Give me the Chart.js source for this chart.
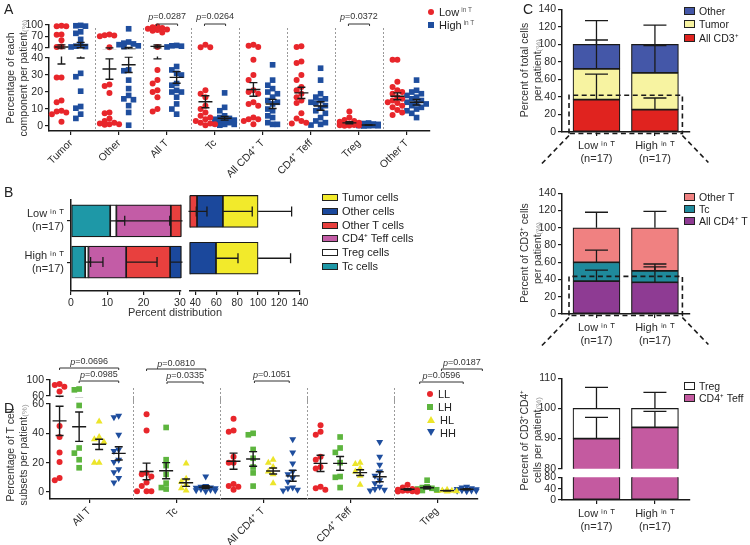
<!DOCTYPE html>
<html>
<head>
<meta charset="utf-8">
<title>T cell composition per patient</title>
<script src="https://cdn.jsdelivr.net/npm/chart.js@4.4.1/dist/chart.umd.min.js"></script>
<style>
  html, body { margin: 0; padding: 0; background: #fff; }
  #fig { position: relative; width: 750px; height: 545px; overflow: hidden;
         font-family: "Liberation Sans", Arial, Helvetica, sans-serif; color: #222; }
  #fig canvas { position: absolute; }
  .ttl { position: absolute; white-space: nowrap; text-align: center; line-height: 12.5px; font-size: 10.5px; color: #333; }
  .pct { color: #9a9a9a; font-size: 8px; }
  .sup { font-size: 6.5px; color: #555; vertical-align: 4px; margin-left: 2px; }
  .panel { position: absolute; font-size: 14px; line-height: 14px; }
  .leg { position: absolute; font-size: 11px; white-space: nowrap; line-height: 12px; color: #222; }
  .leg.sm { font-size: 10.5px; }
  .sw { display: inline-block; border: 1px solid #222; vertical-align: 0; margin-right: 4px; }
  .mk { display: inline-block; margin-right: 5px; vertical-align: 1px; }
</style>
</head>
<body>
<div id="fig"></div>
<script>
// ---------- A: percentage of each component per patient (Low / High in T, n=17 each)
const aCats = ['Tumor', 'Other', 'All T', 'Tc', 'All CD4⁺ T', 'CD4⁺ Teff', 'Treg', 'Other T'];
const aLow = [
  [98, 97, 97, 75, 74, 60, 43, 42, 28.5, 28.5, 15, 14, 9, 8.5, 8, 7, 2.5],
  [75, 73, 72, 70, 41, 24.5, 23.5, 19.5, 8, 7.5, 4.5, 3, 2, 1.5, 1, 1, 0.8],
  [96, 94, 92, 90, 88, 87, 85, 80, 42, 33, 27, 25, 21, 20, 17, 10, 8.5],
  [48, 41, 41, 21, 19, 17, 12, 10, 8, 6, 5, 4, 3, 2, 1.5, 1, 0.5],
  [48, 45, 42, 39, 30, 27, 21, 20, 19, 14, 13, 12, 5, 4, 4, 3, 1],
  [44, 42, 38, 37, 30, 27, 23, 21, 19, 17, 15, 13.5, 7.5, 4.5, 3, 2, 1.5],
  [8.5, 5, 3.5, 3, 2.5, 2, 1.8, 1.5, 1.2, 1, 1, 0.8, 0.6, 0.5, 0.4, 0.3, 0.2],
  [39, 39, 26, 23, 21, 20, 19, 17, 16, 15, 14, 13.5, 12, 11, 9.5, 8, 6.5]
];
const aHigh = [
  [99, 98, 97, 82, 78, 62, 46, 44, 43, 42, 31, 29, 20.5, 11.5, 10.5, 7, 4.5],
  [90, 55, 52, 50, 48, 45, 43, 33, 32.5, 27, 22, 18, 16, 15.5, 12, 8, 0.5],
  [46, 45, 44, 42, 35, 33, 31, 30, 25, 24, 21, 20, 20, 17, 13, 10, 7],
  [19.5, 11, 9, 6, 5, 4.5, 4, 3.5, 3, 3, 2.5, 2, 2, 1.5, 1, 1, 0.5],
  [36, 27, 24, 22, 20, 19, 17, 15, 14, 13, 10, 9, 6, 5, 2, 1, 1],
  [34, 27, 19, 17, 16, 15, 14, 13.5, 12, 10.5, 9, 7.5, 5, 3, 2, 1, 0.6],
  [1.8, 1.5, 1.2, 1, 1, 0.9, 0.8, 0.7, 0.6, 0.5, 0.5, 0.4, 0.3, 0.3, 0.2, 0.2, 0.1],
  [27, 21, 20, 19, 18, 17, 16, 15, 14, 13.5, 13, 12, 11, 10, 9, 7.5, 5]
];
const aLowMean = [42, 33.5, 43.5, 14.3, 21.5, 19.5, 1.9, 17.5];
const aLowSem = [5.5, 6, 4, 3.5, 4, 3.3, 0.6, 2];
const aHighMean = [47, 36, 28.6, 4.6, 13, 11.8, 0.6, 14];
const aHighSem = [7, 4.5, 3.4, 1.1, 2.7, 2.5, 0.2, 1.6];
const aPCats = [2, 3, 6];
const aPVals = ['0.0287', '0.0264', '0.0372'];

// ---------- B: percent distribution (stacked, left to right)
const bRows = [['Low ⁱⁿ ᵀ', '(n=17)'], ['High ⁱⁿ ᵀ', '(n=17)']];
const bSeries = ['Tc cells', 'Treg cells', 'CD4⁺ Teff cells', 'Other T cells', 'Other cells', 'Tumor cells'];
const bLow = [10.8, 1.7, 15.0, 14.2, 24.7, 33.6];
const bHigh = [3.9, 0.9, 10.4, 12.1, 32.5, 40.2];
const bLowSem = [4.0, 14.7, 13.5, 9.5, 28.0, 32.0];
const bHighSem = [1.5, 4.0, 8.5, 5.0, 21.0, 31.0];

// ---------- C: stacked percentages (bottom to top)
const cGroups = [['Low ⁱⁿ ᵀ', '(n=17)'], ['High ⁱⁿ ᵀ', '(n=17)']];
const c1Series = ['All CD3⁺', 'Tumor', 'Other'];
const c1Low = [37, 35, 28];
const c1High = [25.6, 41.9, 32.5];
const c1LowSem = [29, 33, 27];
const c1HighSem = [13.2, 31, 22];
const c2Series = ['All CD4⁺ T', 'Tc', 'Other T'];
const c2Low = [38, 22, 40];
const c2High = [36.8, 13.2, 50];
const c2LowSem = [13, 14, 18];
const c2HighSem = [17.8, 8, 19];
const c3Series = ['CD4⁺ Teff', 'Treg'];
const c3Low = [90, 10];
const c3High = [93.7, 6.3];
const c3LowSem = [7, 7];
const c3HighSem = [5.3, 5.3];

// ---------- D: T cell subsets per patient
const dCats = ['All T', 'Tc', 'All CD4⁺ T', 'CD4⁺ Teff', 'Treg'];
const dSeries = ['LL', 'LH', 'HL', 'HH'];
const dLL = [
  [90, 87, 83, 71, 45, 37.5, 27, 20.5, 9.5, 8],
  [53, 42, 13, 12, 10.5, 6.5, 4, 0.5, 0.5, 0.5],
  [50, 42, 41, 24, 20, 20, 5.5, 4, 3.5, 1.5],
  [45.5, 41, 39, 24, 22, 17, 16, 3.5, 2.5, 1.5],
  [5, 3, 2, 1.5, 1.2, 1, 0.8, 0.5, 0.3, 0.2]
];
const dLH = [
  [77, 75, 59, 30, 26.5, 22, 16.5],
  [44, 22, 18, 12, 6, 3, 2],
  [40, 39, 29, 23, 17, 13, 4],
  [37.5, 30, 27, 20, 10.5, 10, 3],
  [8, 3.5, 3, 2.5, 2, 1.5, 1]
];
const dHL = [
  [48, 37.5, 36, 34, 20, 20],
  [19.5, 9, 7, 5, 2.5, 1],
  [22, 20, 17, 14, 12, 6],
  [20, 19, 16, 14, 11, 5],
  [1.5, 1, 0.8, 0.7, 0.5, 0.4]
];
const dHH = [
  [52, 51, 39, 29, 28, 22, 20.5, 15.5, 13.5, 9.5, 6.5],
  [10.5, 4, 3.5, 3, 2.8, 2.5, 2, 1.5, 1.2, 1, 0.5],
  [36, 27, 19.5, 14, 12, 9.5, 7, 3, 2.5, 1.5, 1],
  [34, 24, 18.5, 14, 11, 8, 6, 3.5, 2, 1.5, 1],
  [3.5, 3, 2.5, 2, 1.8, 1.5, 1.2, 1, 0.9, 0.8, 0.5]
];
const dMean = [[48.5, 14, 21, 19.5, 1.8], [44.5, 14.5, 22.5, 19.5, 2.9], [32.5, 6.3, 14.3, 13.2, 0.9], [26.3, 3.3, 11, 10.4, 1.8]];
const dSem = [[10, 5.7, 5.5, 5.5, 0.5], [10, 5.5, 5, 4.7, 0.8], [3.5, 2.5, 2, 2, 0.2], [4.5, 0.9, 3.7, 3.4, 0.4]];
const dPVals = ['0.0696', '0.0985', '0.0810', '0.0335', '0.1051', '0.0187', '0.0596'];

// ---------- styling
const INK = '#1a1a1a';
const FONT = '"Liberation Sans", Arial, Helvetica, sans-serif';
const RED = '#e8262b', BLUE = '#1f4e9e', GREEN = '#5db53e', YELLOW = '#ece52a';
const bColors = ['#1e98a7', '#ffffff', '#c35ca6', '#e8403e', '#1b489c', '#f2ea2b'];
const c1Colors = ['#e0231f', '#f7f3a1', '#4457a8'];
const c2Colors = ['#8e3b93', '#1f8a9c', '#f08181'];
const c3Colors = ['#c45aa0', '#ffffff'];

Chart.defaults.font.family = FONT;
Chart.defaults.font.size = 10;
Chart.defaults.color = '#2a2a2a';
Chart.defaults.animation = false;
Chart.defaults.events = [];
Chart.defaults.plugins.legend.display = false;
Chart.defaults.plugins.tooltip.enabled = false;

const fig = document.getElementById('fig');

// canvas so that the plot area lands on area (page px), with margins m round it
function frame(a, m) {
  const c = document.createElement('canvas');
  c.width = a.r - a.l + m.l + m.r;
  c.height = a.b - a.t + m.t + m.b;
  c.style.left = (a.l - m.l) + 'px';
  c.style.top = (a.t - m.t) + 'px';
  fig.appendChild(c);
  return c;
}
function pad(m, showX, showY) {
  return { padding: { left: showY ? 0 : m.l, top: m.t, right: m.r, bottom: showX ? 0 : m.b } };
}
const gridOpt = () => ({ drawOnChartArea: false, offset: false, color: INK, tickLength: 4, lineWidth: 1.2 });
const borderOpt = () => ({ color: INK, width: 1.5 });
const fitW = w => sc => { sc.width = w; };
const fitH = h => sc => { sc.height = h; };
function numScale(min, max, ticks, fit, more, tickOpts) {
  return Object.assign({
    type: 'linear', min, max, offset: false,
    afterBuildTicks: sc => { sc.ticks = ticks.map(v => ({ value: v })); },
    afterFit: fit,
    grid: gridOpt(), border: borderOpt(),
    ticks: Object.assign({ padding: 2, autoSkip: false, maxRotation: 0, minRotation: 0 }, tickOpts || {})
  }, more || {});
}
function idxScale(min, max, labels, fit, tickOpts, more) {
  return Object.assign({
    type: 'linear', min, max, offset: false,
    afterBuildTicks: sc => { sc.ticks = labels.map((t, i) => ({ value: i })); },
    afterFit: fit,
    grid: gridOpt(), border: borderOpt(),
    ticks: Object.assign({ callback: (v, i) => labels[i], autoSkip: false, padding: 2 }, tickOpts || {})
  }, more || {});
}

// simple beeswarm: side-step points whose values collide
function swarm(vals, tol, step) {
  const slots = [0, -1, 1, -2, 2];
  const placed = [];
  return vals.map((v, n) => {
    let k = slots.find(s => !placed.some(p => p.s === s && Math.abs(p.v - v) < tol));
    if (k === undefined) k = slots[n % slots.length];
    placed.push({ v, s: k });
    return k * step;
  });
}
function groupPoints(groups, shift, keep, tol, step) {
  const pts = [];
  groups.forEach((vals, i) => {
    const sel = vals.filter(keep);
    const offs = swarm(sel, tol, step);
    sel.forEach((v, k) => pts.push({ x: i + shift + offs[k], y: v }));
  });
  return pts;
}

// ---------- drawing plugins
function separators(c, n, top, bottom) {
  const { ctx, chartArea: a, scales: { x } } = c;
  ctx.save();
  ctx.strokeStyle = '#9a9a9a'; ctx.lineWidth = 1; ctx.setLineDash([2, 2]);
  for (let i = 0; i < n; i++) {
    const px = Math.round(x.getPixelForValue(i + 0.5)) + 0.5;
    ctx.beginPath(); ctx.moveTo(px, a.top + top); ctx.lineTo(px, a.bottom + bottom); ctx.stroke();
  }
  ctx.restore();
}
function meanSem(c, items, hw, cw) {
  const { ctx, chartArea: a, scales: { x, y } } = c;
  ctx.save();
  ctx.beginPath(); ctx.rect(a.left, a.top - 1.5, a.right - a.left, a.bottom - a.top + 3); ctx.clip();
  ctx.strokeStyle = INK; ctx.lineWidth = 1.4;
  items.forEach(it => {
    const px = x.getPixelForValue(it.x);
    const pm = y.getPixelForValue(it.mean);
    const p0 = y.getPixelForValue(it.mean - it.sem), p1 = y.getPixelForValue(it.mean + it.sem);
    ctx.beginPath();
    ctx.moveTo(px - hw, pm); ctx.lineTo(px + hw, pm);
    ctx.moveTo(px, p0); ctx.lineTo(px, p1);
    ctx.moveTo(px - cw, p0); ctx.lineTo(px + cw, p0);
    ctx.moveTo(px - cw, p1); ctx.lineTo(px + cw, p1);
    ctx.stroke();
  });
  ctx.restore();
}
function brackets(c, items) {
  const { ctx, chartArea: a, scales: { x } } = c;
  ctx.save();
  ctx.strokeStyle = '#333'; ctx.fillStyle = '#333'; ctx.lineWidth = 1;
  ctx.textBaseline = 'middle'; ctx.textAlign = 'left';
  items.forEach(it => {
    const x0 = x.getPixelForValue(it.a), x1 = x.getPixelForValue(it.b);
    const yl = a.top + it.line, yt = a.top + it.txt;
    ctx.beginPath(); ctx.moveTo(x0, yl + 2); ctx.lineTo(x0, yl); ctx.lineTo(x1, yl); ctx.lineTo(x1, yl + 2); ctx.stroke();
    const rest = '=' + it.p;
    ctx.font = 'italic 9px ' + FONT; const w1 = ctx.measureText('p').width;
    ctx.font = '9px ' + FONT; const w2 = ctx.measureText(rest).width;
    const sx = (x0 + x1) / 2 - (w1 + w2) / 2;
    ctx.font = 'italic 9px ' + FONT; ctx.fillText('p', sx, yt);
    ctx.font = '9px ' + FONT; ctx.fillText(rest, sx + w1, yt);
  });
  ctx.restore();
}
// one-sided error bars on stacked bars (from each segment end outwards)
function stackErr(c, rows, sems, cap, horizontal) {
  const { ctx, chartArea: a, scales: { x, y } } = c;
  const vs = horizontal ? x : y, is = horizontal ? y : x;
  ctx.save();
  ctx.beginPath(); ctx.rect(a.left - 1.5, a.top - 1.5, a.right - a.left + 3, a.bottom - a.top + 3); ctx.clip();
  ctx.strokeStyle = INK; ctx.lineWidth = 1.3;
  rows.forEach((vals, r) => {
    const pi = is.getPixelForValue(r);
    let cum = 0;
    vals.forEach((v, i) => {
      cum += v;
      const p0 = vs.getPixelForValue(cum), p1 = vs.getPixelForValue(cum + sems[r][i]);
      ctx.beginPath();
      if (horizontal) {
        ctx.moveTo(p0, pi); ctx.lineTo(p1, pi); ctx.moveTo(p1, pi - cap); ctx.lineTo(p1, pi + cap);
      } else {
        ctx.moveTo(pi, p0); ctx.lineTo(pi, p1); ctx.moveTo(pi - cap, p1); ctx.lineTo(pi + cap, p1);
      }
      ctx.stroke();
    });
  });
  ctx.restore();
}
// edge drawn where a broken axis cuts the bars
function cutEdge(c, side) {
  const { ctx, chartArea: a } = c;
  const px = side === 'right' ? a.right : a.left;
  ctx.save(); ctx.strokeStyle = INK; ctx.lineWidth = 1.2;
  c.getDatasetMeta(0).data.forEach(bar => {
    const h = bar.height / 2;
    ctx.beginPath(); ctx.moveTo(px, bar.y - h); ctx.lineTo(px, bar.y + h); ctx.stroke();
  });
  ctx.restore();
}
// dashed frame and the two lines that lead to the panel below
function zoomGuide(c, top) {
  const { ctx, chartArea: a, scales: { x, y } } = c;
  const l = x.getPixelForValue(-0.47), r = x.getPixelForValue(1.47);
  const t = y.getPixelForValue(top), b = a.bottom + 1.5;
  ctx.save(); ctx.strokeStyle = INK; ctx.lineWidth = 1.6; ctx.setLineDash([5, 3.5]);
  ctx.beginPath();
  ctx.moveTo(l, b); ctx.lineTo(l, t); ctx.lineTo(r, t); ctx.lineTo(r, b); ctx.lineTo(l, b);
  ctx.moveTo(l, b + 2); ctx.lineTo(l - 28, b + 31);
  ctx.moveTo(r, b + 2); ctx.lineTo(r + 26, b + 29);
  ctx.stroke(); ctx.restore();
}

// ---------- panel A (broken y axis: two stacked plots)
const aStats = aCats.flatMap((c, i) => [
  { x: i - 0.2, mean: aLowMean[i], sem: aLowSem[i] },
  { x: i + 0.2, mean: aHighMean[i], sem: aHighSem[i] }
]);
const aBr = aPCats.map((ci, k) => ({ a: ci - 0.22, b: ci + 0.22, p: aPVals[k], line: -1, txt: -8 }));
function aSets(keep, tol) {
  return [
    { data: groupPoints(aLow, -0.2, keep, tol, 0.1), backgroundColor: RED, pointStyle: 'circle', pointRadius: 3, borderWidth: 0, clip: false },
    { data: groupPoints(aHigh, 0.2, keep, tol, 0.1), backgroundColor: BLUE, pointStyle: 'rect', pointRadius: 4, borderWidth: 0, clip: false }
  ];
}
{
  const area = { l: 49, t: 25, r: 430, b: 48 }, m = { l: 49, t: 17, r: 20, b: 8 };
  new Chart(frame(area, m), {
    type: 'scatter',
    data: { datasets: aSets(v => v > 40.5, 14) },
    options: {
      responsive: false, devicePixelRatio: 1, layout: pad(m, false, true),
      scales: {
        x: idxScale(-0.46, 7.48, aCats, undefined, {}, { display: false }),
        y: numScale(40, 100, [40, 70, 100], fitW(m.l), {}, { font: { size: 10.5 } })
      }
    },
    plugins: [{
      id: 'aTop',
      beforeDatasetsDraw: c => separators(c, aCats.length - 1, 3, 8),
      afterDatasetsDraw: c => { meanSem(c, aStats, 7, 4); brackets(c, aBr); }
    }]
  });
}
{
  const area = { l: 49, t: 58, r: 430, b: 131 }, m = { l: 49, t: 12, r: 20, b: 56 };
  new Chart(frame(area, m), {
    type: 'scatter',
    data: { datasets: aSets(v => v <= 40.5, 3.4) },
    options: {
      responsive: false, devicePixelRatio: 1, layout: pad(m, true, true),
      scales: {
        x: idxScale(-0.46, 7.48, aCats, fitH(m.b), { minRotation: 45, maxRotation: 45, font: { size: 10.5 } }),
        y: numScale(-2.9, 40, [0, 10, 20, 30, 40], fitW(m.l), {}, { font: { size: 10.5 } })
      }
    },
    plugins: [{
      id: 'aLow',
      beforeDatasetsDraw: c => separators(c, aCats.length - 1, -3, 0),
      afterDatasetsDraw: c => meanSem(c, aStats, 7, 4)
    }]
  });
}

// ---------- panel B (broken x axis: two side-by-side plots)
function bSets() {
  return bSeries.map((s, i) => ({
    label: s,
    data: [{ x: bLow[i], y: 0 }, { x: bHigh[i], y: 1 }],
    backgroundColor: bColors[i], borderColor: INK, borderWidth: 1.2, borderSkipped: false, barThickness: 32
  }));
}
{
  const area = { l: 71, t: 188, r: 181, b: 291 }, m = { l: 71, t: 4, r: 8, b: 30 };
  new Chart(frame(area, m), {
    type: 'bar',
    data: { datasets: bSets() },
    options: {
      responsive: false, devicePixelRatio: 1, indexAxis: 'y', layout: pad(m, true, true),
      scales: {
        x: numScale(0, 30.3, [0, 10, 20, 30], fitH(m.b), { stacked: true }, { font: { size: 10.5 } }),
        y: idxScale(-0.5, 1.7, bRows, fitW(m.l), { font: { size: 11 }, padding: 3 }, { reverse: true, stacked: true })
      }
    },
    plugins: [{
      id: 'bLeft',
      afterDatasetsDraw: c => { cutEdge(c, 'right'); stackErr(c, [bLow, bHigh], [bLowSem, bHighSem], 5, true); }
    }]
  });
}
{
  const area = { l: 190, t: 188, r: 300, b: 291 }, m = { l: 6, t: 4, r: 12, b: 30 };
  new Chart(frame(area, m), {
    type: 'bar',
    data: { datasets: bSets() },
    options: {
      responsive: false, devicePixelRatio: 1, indexAxis: 'y', layout: pad(m, true, false),
      scales: {
        x: numScale(35, 140, [40, 60, 80, 100, 120, 140], fitH(m.b), { stacked: true }, { font: { size: 10 } }),
        y: idxScale(-0.5, 1.7, bRows, undefined, {}, { reverse: true, stacked: true, display: false })
      }
    },
    plugins: [{
      id: 'bRight',
      afterDatasetsDraw: c => { cutEdge(c, 'left'); stackErr(c, [bLow, bHigh], [bLowSem, bHighSem], 5, true); }
    }]
  });
}

// ---------- panel C (three stacked column plots)
function cSets(series, low, high, colors) {
  return series.map((s, i) => ({
    label: s,
    data: [{ x: 0, y: low[i] }, { x: 1, y: high[i] }],
    backgroundColor: colors[i], borderColor: INK, borderWidth: 1.2, borderSkipped: false, barThickness: 47
  }));
}
function cChart(area, m, sets, yScale, showX, deco) {
  return new Chart(frame(area, m), {
    type: 'bar',
    data: { datasets: sets },
    options: {
      responsive: false, devicePixelRatio: 1, layout: pad(m, showX, true),
      scales: {
        x: idxScale(-0.59, 1.6, cGroups, showX ? fitH(m.b) : undefined,
          { font: { size: 11 }, maxRotation: 0, padding: 3 }, { stacked: true, display: showX }),
        y: yScale
      }
    },
    plugins: [{ id: 'cDeco', afterDatasetsDraw: deco }]
  });
}
const cTicks = { font: { size: 10.5 } };
{
  const area = { l: 562, t: 7, r: 690, b: 132 }, m = { l: 42, t: 6, r: 25, b: 40 };
  cChart(area, m, cSets(c1Series, c1Low, c1High, c1Colors),
    numScale(0, 140, [0, 20, 40, 60, 80, 100, 120, 140], fitW(m.l), { stacked: true }, cTicks),
    true, c => { stackErr(c, [c1Low, c1High], [c1LowSem, c1HighSem], 11.5, false); zoomGuide(c, 42); });
}
{
  const area = { l: 562, t: 191, r: 690, b: 314 }, m = { l: 42, t: 6, r: 25, b: 40 };
  cChart(area, m, cSets(c2Series, c2Low, c2High, c2Colors),
    numScale(0, 140, [0, 20, 40, 60, 80, 100, 120, 140], fitW(m.l), { stacked: true }, cTicks),
    true, c => { stackErr(c, [c2Low, c2High], [c2LowSem, c2HighSem], 11.5, false); zoomGuide(c, 43.6); });
}
{
  const area = { l: 562, t: 378, r: 690, b: 469 }, m = { l: 42, t: 8, r: 25, b: 8 };
  cChart(area, m, cSets(c3Series, c3Low, c3High, c3Colors),
    numScale(80, 110, [80, 90, 100, 110], fitW(m.l), { stacked: true }, cTicks),
    false, c => stackErr(c, [c3Low, c3High], [c3LowSem, c3HighSem], 11.5, false));
}
{
  const area = { l: 562, t: 477, r: 690, b: 500 }, m = { l: 42, t: 8, r: 25, b: 40 };
  cChart(area, m, cSets(c3Series, c3Low, c3High, c3Colors),
    numScale(0, 80, [0, 40, 80], fitW(m.l), { stacked: true }, cTicks),
    true, () => {});
}

// ---------- panel D (broken y axis)
const dGroups = [dLL, dLH, dHL, dHH];
const dShift = [-0.34, -0.115, 0.115, 0.34];
const dColors = [RED, GREEN, YELLOW, BLUE];
const dShapes = ['circle', 'rect', 'triangle', 'triangle'];
const dStats = dGroups.flatMap((g, s) => dCats.map((c, i) => ({ x: i + dShift[s], mean: dMean[s][i], sem: dSem[s][i] })));
const dBr = [
  { a: -0.34, b: 0.34, p: dPVals[0], line: -12, txt: -18 },
  { a: -0.115, b: 0.34, p: dPVals[1], line: 1, txt: -5 },
  { a: 1 - 0.34, b: 1.34, p: dPVals[2], line: -11, txt: -16 },
  { a: 1 - 0.105, b: 1.31, p: dPVals[3], line: 2, txt: -4 },
  { a: 2 - 0.1, b: 2.3, p: dPVals[4], line: 1, txt: -5 },
  { a: 4 + 0.05, b: 4.52, p: dPVals[5], line: -11, txt: -17 },
  { a: 4 - 0.2, b: 4.3, p: dPVals[6], line: 2, txt: -4 }
];
function dSets(keep, tol) {
  return dGroups.map((g, s) => ({
    label: dSeries[s],
    data: groupPoints(g, dShift[s], keep, tol, 0.055),
    backgroundColor: dColors[s], pointStyle: dShapes[s], rotation: s === 3 ? 180 : 0,
    pointRadius: s === 0 ? 3 : 4, borderWidth: 0, clip: false
  }));
}
{
  const area = { l: 50, t: 380, r: 478, b: 396 }, m = { l: 50, t: 28, r: 12, b: 8 };
  new Chart(frame(area, m), {
    type: 'scatter',
    data: { datasets: dSets(v => v > 60, 14) },
    options: {
      responsive: false, devicePixelRatio: 1, layout: pad(m, false, true),
      scales: {
        x: idxScale(-0.45, 4.47, dCats, undefined, {}, { display: false }),
        y: numScale(60, 100, [60, 100], fitW(m.l), {}, { font: { size: 10.5 } })
      }
    },
    plugins: [{
      id: 'dTop',
      beforeDatasetsDraw: c => separators(c, dCats.length - 1, 8, 8),
      afterDatasetsDraw: c => { meanSem(c, dStats, 7, 4); brackets(c, dBr); }
    }]
  });
}
{
  const area = { l: 50, t: 404, r: 478, b: 499 }, m = { l: 50, t: 12, r: 12, b: 46 };
  new Chart(frame(area, m), {
    type: 'scatter',
    data: { datasets: dSets(v => v <= 60, 4) },
    options: {
      responsive: false, devicePixelRatio: 1, layout: pad(m, true, true),
      scales: {
        x: idxScale(-0.45, 4.47, dCats, fitH(m.b), { minRotation: 45, maxRotation: 45, font: { size: 10.5 } }),
        y: numScale(-4.8, 60, [0, 20, 40, 60], fitW(m.l), {}, { font: { size: 10.5 } })
      }
    },
    plugins: [{
      id: 'dLow',
      beforeDatasetsDraw: c => separators(c, dCats.length - 1, -6, 0),
      afterDatasetsDraw: c => meanSem(c, dStats, 7, 4)
    }]
  });
}

// ---------- text: panel letters, axis titles, legends
function put(html, x, y, cls) {
  const d = document.createElement('div');
  d.className = cls; d.innerHTML = html;
  d.style.left = x + 'px'; d.style.top = y + 'px';
  fig.appendChild(d);
  return d;
}
function centre(html, x, y, cls, rot) {
  const d = put(html, x, y, cls);
  d.style.transform = 'translate(-50%, -50%)' + (rot ? ' rotate(-90deg)' : '');
  return d;
}
const sup = '<span class="sup">in T</span>';
const pct = '<span class="pct">(%)</span>';

put('A', 4, 2, 'panel');
put('B', 4, 185, 'panel');
put('C', 523, 2, 'panel');
put('D', 4, 401, 'panel');

centre('Percentage of each<br>component per patient' + pct, 17, 78, 'ttl', true);
centre('Percentage of T cell<br>subsets per patient' + pct, 17, 455, 'ttl', true);
centre('Percent of total cells<br>per patient' + pct, 531, 70, 'ttl', true);
centre('Percent of CD3⁺ cells<br>per patient' + pct, 531, 253, 'ttl', true);
centre('Percent of CD3⁺CD4⁺<br>cells per patient' + pct, 531, 440, 'ttl', true);
centre('Percent distribution', 175, 312, 'ttl', false).style.fontSize = '11px';

const mk = {
  circle: c => `<i class="mk" style="width:6px;height:6px;border-radius:50%;background:${c}"></i>`,
  rect: c => `<i class="mk" style="width:6px;height:6px;background:${c}"></i>`,
  up: c => `<i class="mk" style="width:0;height:0;border-left:4px solid transparent;border-right:4px solid transparent;border-bottom:7px solid ${c}"></i>`,
  down: c => `<i class="mk" style="width:0;height:0;border-left:4px solid transparent;border-right:4px solid transparent;border-top:7px solid ${c}"></i>`
};
put(mk.circle(RED) + 'Low' + sup, 428, 4, 'leg');
put(mk.rect(BLUE) + 'High' + sup, 428, 17, 'leg');
const dMk = [mk.circle, mk.rect, mk.up, mk.down];
dSeries.forEach((s, i) => put(dMk[i](dColors[i]) + s, 427, 388 + i * 13, 'leg'));

function boxLegend(names, colors, x, y, step, w, h, cls) {
  names.forEach((n, i) => put(`<span class="sw" style="background:${colors[i]};width:${w}px;height:${h}px"></span>${n}`, x, y + i * step, cls));
}
boxLegend(bSeries.slice().reverse(), bColors.slice().reverse(), 322, 191, 13.8, 14, 5, 'leg');
boxLegend(c1Series.slice().reverse(), c1Colors.slice().reverse(), 684, 5, 13.4, 9, 6, 'leg sm');
boxLegend(c2Series.slice().reverse(), c2Colors.slice().reverse(), 684, 191, 12.2, 9, 6, 'leg sm');
boxLegend(c3Series.slice().reverse(), c3Colors.slice().reverse(), 684, 380, 12, 9, 6, 'leg sm');
</script>
</body>
</html>
